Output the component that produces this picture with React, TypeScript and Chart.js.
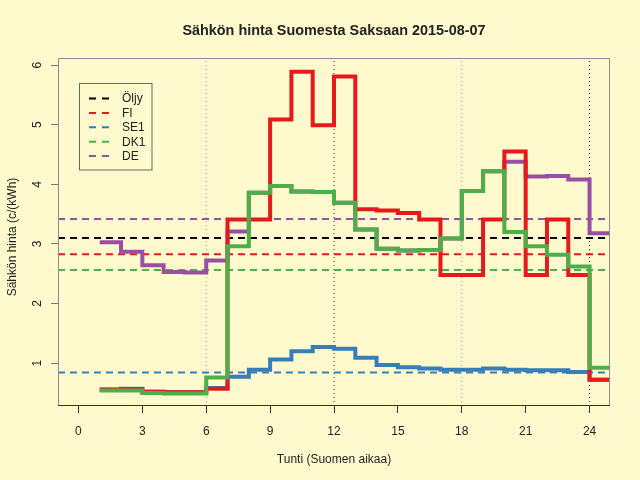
import React, { useEffect, useRef } from "react";
import { Chart, registerables } from "chart.js";

Chart.register(...registerables);

// ---- data ----
const hours = [1, 2, 3, 4, 5, 6, 7, 8, 9, 10, 11, 12, 13, 14, 15, 16, 17, 18, 19, 20, 21, 22, 23, 24];
const fiValues = [0.55, 0.56, 0.52, 0.51, 0.51, 0.57, 3.41, 3.41, 5.09, 5.89, 4.99, 5.81, 3.58, 3.56, 3.52, 3.41, 2.48, 2.48, 3.41, 4.55, 2.48, 3.41, 2.48, 0.72];
const se1Values = [0.56, 0.57, 0.52, 0.51, 0.51, 0.58, 0.77, 0.89, 1.06, 1.2, 1.27, 1.24, 1.09, 0.97, 0.93, 0.91, 0.89, 0.89, 0.91, 0.89, 0.88, 0.88, 0.85, 0.72];
const dk1Values = [0.54, 0.54, 0.5, 0.49, 0.49, 0.76, 2.96, 3.86, 3.97, 3.88, 3.87, 3.69, 3.24, 2.92, 2.89, 2.9, 3.09, 3.89, 4.22, 3.2, 2.96, 2.82, 2.62, 0.92];
const deValues = [3.03, 2.87, 2.64, 2.53, 2.52, 2.72, 3.21, 3.86, 3.97, 3.88, 3.87, 3.69, 3.24, 2.92, 2.89, 2.9, 3.09, 3.89, 4.22, 4.38, 4.13, 4.14, 4.08, 3.18];
const seriesNames = ["Öljy", "FI", "SE1", "DK1", "DE"];
const averageValues = [3.1, 2.825, 0.842, 2.563, 3.42];
const seriesColors = ["#000000", "#E41A1C", "#377EB8", "#4DAF4A", "#984EA3"];
const xTickValues = [0, 3, 6, 9, 12, 15, 18, 21, 24];
const yTickValues = [1, 2, 3, 4, 5, 6];
const markerHours = [6, 12, 18, 24];
const markerColors = ["#A0A0A0", "#333333", "#A0A0A0", "#333333"];
const titleText = "Sähkön hinta Suomesta Saksaan 2015-08-07";
const xTitleText = "Tunti (Suomen aikaa)";
const yTitleText = "Sähkön hinta (c/(kWh)";

const X_MIN = -0.96;
const X_MAX = 24.96;
const Y_MIN = 0.28;
const Y_MAX = 6.12;
const BG = "#FFFACD";
const FONT = "'Liberation Sans', Arial, Helvetica, sans-serif";

function stepDataset(label: string, values: number[], color: string, order: number) {
  const pts = hours.map((h, i) => ({ x: h, y: values[i] }));
  pts.push({ x: hours[hours.length - 1] + 1, y: values[values.length - 1] });
  return {
    label,
    data: pts,
    borderColor: color,
    backgroundColor: color,
    borderWidth: 4,
    stepped: "before" as const,
    pointRadius: 0,
    fill: false,
    order,
    borderCapStyle: "butt" as const,
    borderJoinStyle: "miter" as const,
  };
}

const rPlotPlugin = {
  id: "rPlot",
  beforeDraw(chart: any) {
    const ctx = chart.ctx;
    ctx.save();
    ctx.fillStyle = BG;
    ctx.fillRect(0, 0, chart.width, chart.height);
    ctx.restore();
  },
  afterDraw(chart: any) {
    const ctx = chart.ctx;
    const area = chart.chartArea;
    const yScale = chart.scales.y;
    ctx.save();
    // box
    ctx.lineWidth = 1;
    ctx.strokeStyle = "#8C8C8C";
    ctx.beginPath();
    ctx.moveTo(area.left + 0.5, area.bottom);
    ctx.lineTo(area.left + 0.5, area.top + 0.5);
    ctx.lineTo(area.right - 0.5, area.top + 0.5);
    ctx.lineTo(area.right - 0.5, area.bottom);
    ctx.stroke();
    ctx.strokeStyle = "#333333";
    ctx.beginPath();
    ctx.moveTo(area.left, area.bottom - 0.5);
    ctx.lineTo(area.right, area.bottom - 0.5);
    ctx.stroke();

    // title
    const cx = (area.left + area.right) / 2;
    ctx.fillStyle = "#222222";
    ctx.textAlign = "center";
    ctx.textBaseline = "middle";
    ctx.font = `bold 14.4px ${FONT}`;
    ctx.fillText(titleText, cx, 31);
    // x title
    ctx.font = `12px ${FONT}`;
    ctx.fillText(xTitleText, cx, 460);
    // y tick labels (rotated)
    yTickValues.forEach((v) => {
      const py = yScale.getPixelForValue(v);
      ctx.save();
      ctx.translate(38, py);
      ctx.rotate(-Math.PI / 2);
      ctx.fillText(String(v), 0, 0);
      ctx.restore();
    });
    // y title
    ctx.save();
    ctx.translate(13, (area.top + area.bottom) / 2 + 5);
    ctx.rotate(-Math.PI / 2);
    ctx.fillText(yTitleText, 0, 0);
    ctx.restore();

    // legend
    const lx = 79.5, ly = 83.5, lw = 72.5, lh = 86.5;
    ctx.fillStyle = BG;
    ctx.fillRect(lx, ly, lw, lh);
    ctx.strokeStyle = "#666666";
    ctx.lineWidth = 1;
    ctx.strokeRect(lx, ly, lw, lh);
    seriesNames.forEach((name, i) => {
      const yy = 98.5 + i * 14.4;
      ctx.strokeStyle = seriesColors[i];
      ctx.lineWidth = 2;
      ctx.setLineDash([7, 6]);
      ctx.beginPath();
      ctx.moveTo(89, yy);
      ctx.lineTo(109, yy);
      ctx.stroke();
      ctx.setLineDash([]);
      ctx.fillStyle = "#222222";
      ctx.textAlign = "left";
      ctx.textBaseline = "middle";
      ctx.font = `12px ${FONT}`;
      ctx.fillText(name, 122, yy + 0.5);
    });
    ctx.restore();
  },
};

export default function App() {
  const canvasRef = useRef<HTMLCanvasElement | null>(null);

  useEffect(() => {
    const canvas = canvasRef.current;
    if (!canvas) return;

    const verticalSets = markerHours.map((h, i) => ({
      label: `v${h}`,
      data: [
        { x: h, y: Y_MIN },
        { x: h, y: Y_MAX },
      ],
      borderColor: markerColors[i],
      borderWidth: 1,
      borderDash: [1, 3],
      pointRadius: 0,
      fill: false,
      order: 20,
    }));

    const averageSets = averageValues.map((v, i) => ({
      label: `avg ${seriesNames[i]}`,
      data: [
        { x: X_MIN, y: v },
        { x: X_MAX, y: v },
      ],
      borderColor: seriesColors[i],
      borderWidth: 2,
      borderDash: [7, 5],
      pointRadius: 0,
      fill: false,
      order: 10 + i,
    }));

    const chart = new Chart(canvas, {
      type: "line",
      data: {
        datasets: [
          stepDataset("DK1", dk1Values, seriesColors[3], 1),
          stepDataset("FI", fiValues, seriesColors[1], 2),
          stepDataset("SE1", se1Values, seriesColors[2], 3),
          stepDataset("DE", deValues, seriesColors[4], 4),
          ...averageSets,
          ...verticalSets,
        ] as any,
      },
      options: {
        animation: false,
        responsive: false,
        maintainAspectRatio: false,
        events: [],
        layout: { padding: { top: 58, right: 30, left: 0, bottom: 0 } },
        plugins: {
          legend: { display: false },
          tooltip: { enabled: false },
          title: { display: false },
        },
        scales: {
          x: {
            type: "linear",
            min: X_MIN,
            max: X_MAX,
            afterBuildTicks: (scale: any) => {
              scale.ticks = xTickValues.map((v) => ({ value: v }));
            },
            afterFit: (scale: any) => {
              scale.height = 74;
            },
            grid: {
              drawOnChartArea: false,
              drawTicks: true,
              tickLength: 7,
              color: "#333333",
            },
            border: { display: false },
            ticks: {
              autoSkip: false,
              maxRotation: 0,
              minRotation: 0,
              padding: 11,
              color: "#222222",
              font: { family: FONT, size: 12 },
              callback: (v: any) => String(v),
            },
          },
          y: {
            type: "linear",
            min: Y_MIN,
            max: Y_MAX,
            afterBuildTicks: (scale: any) => {
              scale.ticks = yTickValues.map((v) => ({ value: v }));
            },
            afterFit: (scale: any) => {
              scale.width = 58;
            },
            grid: {
              drawOnChartArea: false,
              drawTicks: true,
              tickLength: 7,
              color: "#777777",
            },
            border: { display: false },
            ticks: { display: false },
          },
        },
      },
      plugins: [rPlotPlugin],
    });

    return () => {
      chart.destroy();
    };
  }, []);

  return (
    <div style={{ position: "absolute", left: 0, top: 0, width: 640, height: 480, background: BG }}>
      <canvas ref={canvasRef} width={640} height={480} style={{ width: 640, height: 480, display: "block" }} />
    </div>
  );
}
